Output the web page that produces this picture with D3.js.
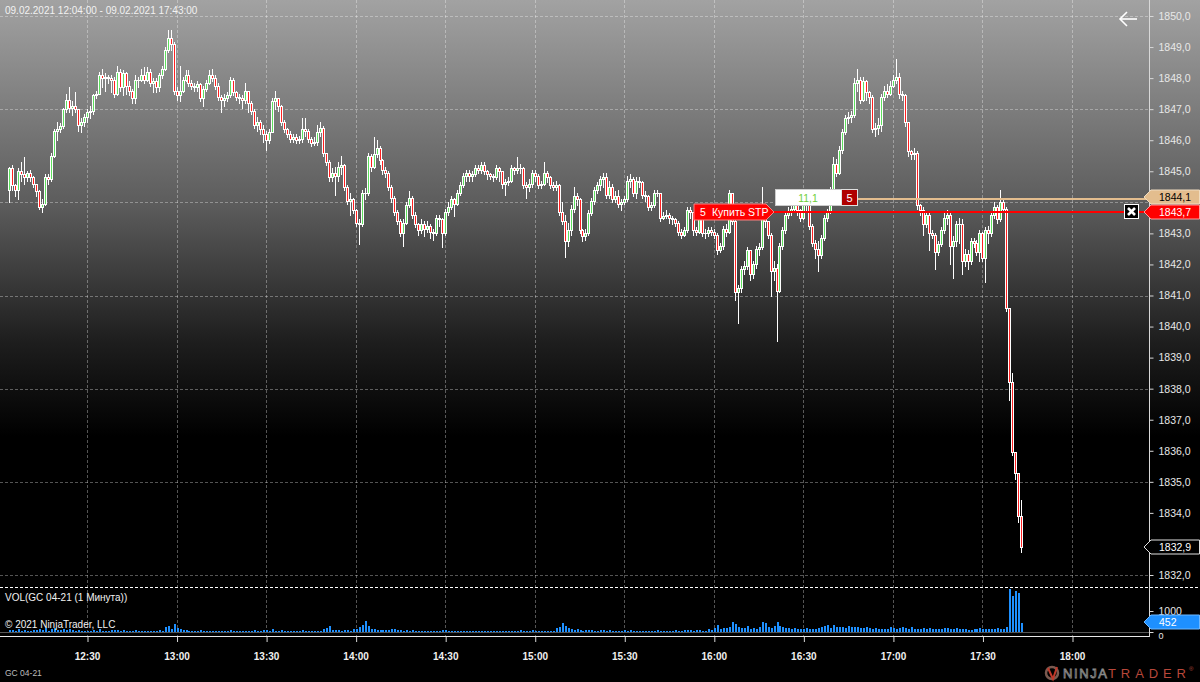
<!DOCTYPE html>
<html><head><meta charset="utf-8">
<script src="https://cdn.jsdelivr.net/npm/d3@7"></script>
<style>html,body{margin:0;padding:0;background:#000;overflow:hidden}svg{display:block}</style>
</head><body>
<svg id="c" width="1200" height="682"></svg>
<script>
// ---------------- DATA ----------------
const titleText = "09.02.2021 12:04:00 - 09.02.2021 17:43:00";
const firstOpen = 1844.4;
const closes = [
1845.1,1844.55,1844.4,1845.0,1844.9,1844.8,1844.95,1844.8,1844.6,1844.35,
1843.85,1843.95,1844.8,1844.75,1845.5,1846.3,1846.35,1846.45,1847.0,1847.3,
1847.05,1847.1,1847.0,1846.5,1846.6,1846.75,1846.9,1846.95,1847.45,1847.5,
1848.1,1848.0,1848.05,1848.0,1847.95,1847.5,1848.2,1847.7,1848.15,1847.75,
1847.6,1847.35,1847.95,1847.95,1848.1,1847.95,1848.2,1847.85,1847.9,1847.7,
1848.1,1848.3,1848.9,1849.3,1849.1,1847.6,1847.45,1847.6,1847.95,1848.1,
1847.85,1847.75,1847.7,1847.8,1847.35,1847.65,1847.85,1848.1,1848.0,1847.75,
1847.4,1847.3,1847.35,1847.45,1847.95,1847.55,1847.4,1847.35,1847.3,1847.6,
1847.2,1846.95,1846.5,1846.6,1846.35,1846.2,1846.0,1846.25,1847.25,1847.35,
1847.1,1846.6,1846.35,1846.2,1846.05,1846.1,1846.0,1846.05,1846.35,1846.3,1846.05,
1845.9,1845.95,1846.25,1846.4,1845.6,1845.3,1844.8,1844.95,1844.85,1845.15,
1845.2,1844.5,1844.05,1844.1,1843.75,1843.35,1843.3,1844.3,1844.3,1845.5,
1845.15,1845.55,1845.75,1845.35,1845.05,1844.95,1844.5,1844.15,1843.7,1843.4,
1843.0,1843.35,1843.9,1844.15,1843.6,1843.3,1843.1,1843.3,1843.15,1843.25,
1843.05,1843.0,1843.5,1843.45,1843.0,1843.7,1843.85,1844.1,1843.95,1844.3,
1844.55,1844.85,1844.95,1844.85,1844.9,1845.1,1845.05,1845.2,1845.0,1844.9,
1844.85,1844.8,1845.1,1845.0,1844.6,1844.65,1844.7,1845.1,1845.05,1845.1,
1845.1,1844.55,1844.5,1844.6,1844.95,1844.85,1844.55,1844.6,1844.95,1844.8,
1844.55,1844.5,1844.55,1843.7,1843.4,1842.75,1843.1,1843.8,1844.2,1844.1,
1843.1,1842.9,1843.0,1843.65,1844.05,1844.4,1844.55,1844.75,1844.8,1844.25,
1844.5,1844.1,1844.2,1843.95,1844.0,1844.1,1844.7,1844.75,1844.3,1844.7,
1844.65,1844.25,1844.2,1843.85,1843.9,1844.3,1844.3,1843.5,1843.55,1843.6,
1843.5,1843.45,1843.35,1843.05,1842.95,1843.1,1843.75,1843.7,1843.1,1843.05,
1843.5,1843.0,1843.0,1843.1,1843.05,1842.95,1842.45,1842.6,1843.15,1843.05,
1844.3,1843.4,1841.1,1841.25,1841.85,1841.95,1842.45,1841.7,1842.0,1842.5,
1842.55,1843.65,1843.4,1842.95,1841.8,1841.9,1841.15,1842.6,1843.1,1843.6,
1843.7,1843.8,1844.05,1843.75,1843.5,1843.9,1844.0,1843.25,1842.7,1842.5,1842.3,
1842.85,1843.5,1843.7,1844.4,1845.25,1844.95,1845.7,1846.25,1846.7,1846.75,
1846.8,1847.85,1847.95,1847.3,1847.9,1847.55,1847.4,1846.35,1846.4,1846.5,
1847.4,1847.6,1847.5,1847.75,1847.95,1848.05,1847.5,1847.45,1846.6,1845.65,
1845.55,1845.6,1843.9,1843.75,1843.3,1843.6,1843.0,1842.95,1842.4,1842.65,
1843.1,1843.5,1843.6,1842.6,1842.75,1843.3,1843.3,1842.1,1842.35,1842.1,
1842.75,1842.7,1842.4,1843.0,1842.2,1843.1,1843.0,1843.6,1843.85,1843.45,
1844.0,1843.8,1840.6,1838.2,1835.95,1835.3,1833.9,1832.9
];
const highs = [
1845.15,1845.2,1844.6,1845.1,1845.3,1845.45,1845.0,1845.05,1844.85,1844.6,
1844.4,1844.1,1844.9,1844.9,1845.6,1846.35,1846.6,1846.55,1847.05,1847.5,
1847.7,1847.25,1847.55,1847.0,1846.7,1846.85,1847.0,1847.1,1847.5,1847.6,
1848.2,1848.3,1848.15,1848.1,1848.1,1848.05,1848.4,1848.3,1848.25,1848.2,
1847.9,1847.65,1848.1,1848.05,1848.3,1848.35,1848.35,1848.3,1848.0,1848.0,
1848.15,1848.4,1849.0,1849.55,1849.55,1849.15,1847.7,1848.4,1848.05,1848.25,
1848.25,1847.95,1847.85,1847.9,1847.85,1847.75,1847.95,1848.25,1848.3,1848.1,
1847.85,1847.45,1847.5,1847.55,1848.05,1848.0,1847.6,1847.5,1847.45,1847.85,
1847.6,1847.25,1847.0,1846.75,1846.65,1846.5,1846.3,1846.35,1847.35,1847.6,
1847.35,1847.15,1846.65,1846.4,1846.3,1846.2,1846.2,1846.15,1846.7,1846.7,1846.35,
1846.1,1846.1,1846.5,1846.6,1846.45,1845.6,1845.35,1845.1,1845.15,1845.3,
1845.5,1845.25,1844.55,1844.3,1844.15,1843.8,1843.45,1844.4,1844.45,1845.6,
1845.55,1846.1,1846.0,1845.8,1845.4,1845.15,1845.0,1844.55,1844.2,1843.75,
1843.45,1843.45,1844.0,1844.35,1844.2,1843.7,1843.35,1843.45,1843.4,1843.4,
1843.3,1843.15,1843.6,1843.6,1843.5,1843.8,1844.0,1844.2,1844.15,1844.4,
1844.65,1844.95,1845.05,1845.05,1845.0,1845.2,1845.2,1845.3,1845.3,1845.05,
1844.95,1844.9,1845.2,1845.15,1845.0,1844.75,1844.8,1845.2,1845.15,1845.45,
1845.25,1845.15,1844.65,1844.75,1845.05,1845.05,1844.9,1844.7,1845.3,1845.0,
1844.85,1844.65,1844.7,1844.6,1844.0,1843.6,1843.35,1843.9,1844.5,1844.3,
1844.15,1843.15,1843.15,1843.75,1844.15,1844.5,1844.65,1844.85,1844.95,1844.95,
1844.7,1844.6,1844.35,1844.4,1844.1,1844.2,1844.85,1844.9,1844.8,1844.8,
1844.8,1844.7,1844.35,1844.25,1844.0,1844.4,1844.4,1844.3,1843.7,1843.75,
1843.65,1843.55,1843.5,1843.4,1843.15,1843.2,1843.85,1843.85,1843.7,1843.2,
1843.6,1843.55,1843.15,1843.2,1843.2,1843.15,1843.0,1842.7,1843.25,1843.3,
1844.4,1844.3,1843.45,1841.35,1841.95,1842.1,1842.55,1842.45,1842.1,1842.6,
1842.7,1844.5,1843.7,1843.4,1843.0,1842.1,1842.0,1842.7,1843.2,1843.7,
1843.85,1844.2,1844.3,1844.15,1843.8,1844.0,1844.15,1844.05,1843.3,1842.8,1842.75,
1842.95,1843.6,1843.8,1844.5,1845.45,1845.4,1845.8,1846.35,1846.8,1846.9,
1846.95,1848.0,1848.3,1848.05,1848.05,1847.95,1847.6,1847.45,1846.55,1846.7,
1847.5,1847.75,1847.8,1847.9,1848.1,1848.6,1848.15,1847.6,1847.5,1846.6,
1845.7,1845.75,1845.65,1843.95,1843.85,1843.7,1843.65,1843.1,1843.0,1842.75,
1843.2,1843.65,1843.75,1843.65,1842.9,1843.4,1843.5,1843.45,1842.5,1842.45,
1842.85,1842.85,1842.8,1843.1,1843.05,1843.2,1843.25,1843.7,1844.0,1843.9,
1844.4,1844.15,1843.85,1840.55,1838.5,1835.9,1835.3,1834.4
];
const lows = [
1844.0,1844.4,1844.2,1844.1,1844.7,1844.6,1844.7,1844.7,1844.5,1844.2,
1843.8,1843.7,1843.9,1844.6,1844.7,1845.45,1846.0,1846.25,1846.4,1846.9,
1846.9,1846.8,1846.9,1846.3,1846.25,1846.45,1846.6,1846.7,1846.85,1847.35,
1847.5,1847.7,1847.6,1847.85,1847.55,1847.4,1847.45,1847.6,1847.45,1847.5,
1847.45,1847.2,1847.2,1847.7,1847.9,1847.85,1847.9,1847.75,1847.55,1847.55,
1847.6,1848.0,1848.25,1848.85,1848.9,1847.5,1847.3,1847.25,1847.55,1847.9,
1847.75,1847.65,1847.6,1847.6,1847.25,1847.1,1847.6,1847.8,1847.9,1847.65,
1847.3,1846.9,1847.1,1847.25,1847.4,1847.45,1847.3,1847.2,1847.05,1847.2,
1846.9,1846.85,1846.4,1846.3,1846.2,1845.95,1845.7,1845.9,1846.25,1847.0,
1846.95,1846.5,1846.25,1846.1,1845.95,1845.95,1845.9,1845.9,1845.95,1846.15,1845.95,
1845.8,1845.85,1845.85,1846.15,1845.5,1845.2,1844.7,1844.7,1844.25,1844.7,
1844.9,1844.4,1843.95,1843.6,1843.65,1843.25,1842.65,1843.25,1844.1,1844.25,
1845.0,1845.1,1845.45,1845.25,1844.9,1844.8,1844.4,1844.0,1843.6,1843.3,
1842.9,1842.6,1843.3,1843.85,1843.5,1843.2,1842.95,1843.0,1842.9,1843.05,
1842.85,1842.8,1842.95,1843.25,1842.55,1842.95,1843.6,1843.8,1843.55,1843.9,
1844.25,1844.5,1844.7,1844.7,1844.7,1844.85,1844.95,1844.95,1844.9,1844.75,
1844.75,1844.7,1844.75,1844.7,1844.45,1844.25,1844.55,1844.65,1844.9,1844.95,
1844.95,1844.45,1844.15,1844.35,1844.5,1844.7,1844.45,1844.45,1844.55,1844.65,
1844.45,1844.4,1844.4,1843.6,1843.3,1842.25,1842.6,1842.95,1843.7,1843.9,
1843.0,1842.75,1842.8,1842.95,1843.6,1843.95,1844.3,1844.4,1844.5,1844.15,
1844.15,1844.0,1844.0,1843.85,1843.75,1843.95,1844.05,1844.5,1844.2,1844.15,
1844.5,1844.15,1844.05,1843.75,1843.75,1843.85,1844.2,1843.4,1843.45,1843.5,
1843.35,1843.3,1843.25,1842.95,1842.85,1842.9,1843.05,1843.5,1842.95,1842.95,
1843.0,1842.9,1842.85,1842.9,1842.95,1842.85,1842.35,1842.4,1842.5,1842.9,
1843.0,1843.3,1840.85,1840.1,1841.1,1841.7,1841.85,1841.5,1841.55,1841.9,
1842.3,1842.5,1843.2,1842.85,1841.0,1841.5,1839.55,1841.1,1842.5,1843.0,
1843.5,1843.6,1843.7,1843.6,1843.4,1843.45,1843.7,1843.15,1842.6,1842.2,1841.8,
1842.2,1842.8,1843.4,1843.65,1844.35,1844.85,1844.9,1845.6,1846.2,1846.55,
1846.6,1846.75,1847.6,1847.2,1847.25,1847.3,1847.2,1846.25,1846.15,1846.2,
1846.3,1847.3,1847.4,1847.45,1847.7,1847.85,1847.35,1847.3,1846.45,1845.5,
1845.4,1845.4,1843.8,1843.6,1842.95,1843.2,1842.45,1842.85,1841.85,1842.3,
1842.6,1843.0,1843.3,1842.0,1841.55,1842.6,1842.7,1841.7,1841.95,1841.85,
1842.0,1842.55,1842.3,1842.1,1842.1,1841.45,1842.7,1842.9,1843.5,1843.35,
1843.4,1843.7,1840.5,1837.65,1835.85,1835.1,1833.7,1832.75
];
const volumes = [
110,80,70,120,60,90,70,60,80,100,
140,110,180,70,150,190,90,80,120,100,
130,80,70,90,60,50,60,50,100,60,
120,70,60,50,80,90,100,70,80,60,
60,70,90,50,60,70,60,50,60,40,
80,70,220,300,160,380,190,140,90,80,
70,50,40,60,80,70,50,60,60,50,
70,60,40,50,90,60,40,50,40,60,
60,70,90,60,50,110,80,60,120,70,
60,80,70,50,40,50,40,40,90,60,
40,50,40,60,70,150,190,280,110,90,
80,70,110,90,60,150,130,240,330,520,
300,150,120,100,80,90,80,110,120,130,
80,90,70,100,60,80,70,50,60,50,
40,50,40,60,70,80,90,60,70,50,
60,70,60,50,60,40,50,60,70,50,
40,50,60,70,50,40,60,50,40,60,
70,90,60,50,60,80,60,50,70,60,
60,50,70,180,260,420,300,200,150,100,
120,80,70,110,90,80,70,60,80,100,
70,80,60,70,50,60,90,70,80,60,
60,70,50,60,50,60,40,90,60,50,
60,50,70,80,60,70,110,80,90,70,
90,80,70,60,120,80,170,330,150,180,
200,240,480,380,250,170,200,300,150,190,
160,230,480,420,260,210,300,470,280,220,
200,180,150,200,160,130,140,190,150,120,
160,200,240,280,350,200,310,260,220,240,
180,300,250,220,260,200,180,260,190,160,
200,150,130,140,160,220,180,150,200,230,
190,140,240,160,130,150,170,120,200,150,
130,160,120,210,180,140,120,200,150,130,
120,100,110,150,130,200,140,160,130,150,
140,180,160,150,260,2050,1700,1950,1850,452
];
const priceTicks = [1850,1849,1848,1847,1846,1845,1843,1842,1841,1840,1839,1838,1837,1836,1835,1834,1832];
const gridPrices = [1850,1847,1844,1841,1838,1835,1832];
const timeTicks = ["12:30","13:00","13:30","14:00","14:30","15:00","15:30","16:00","16:30","17:00","17:30","18:00"];
const volTicks = [0,1000];
const orderQty = 5, orderLabel = "Купить STP", orderPrice = 1843.7;
const posPrice = 1844.1, posPnl = "11,1", posQty = 5;
const lastPrice = 1832.9, lastVolume = 452;

// ---------------- SETUP ----------------
const svg = d3.select("#c");
const FONT = "'Liberation Sans', Arial, sans-serif";
const day = (h,m) => new Date(2021,1,9,h,m);
const times = closes.map((_,i) => day(12, 4 + i));
const bars = closes.map((c,i) => {
  const o = i === 0 ? firstOpen : closes[i-1];
  return {t: times[i], o, c, h: Math.max(highs[i], o, c), l: Math.min(lows[i], o, c), v: volumes[i]};
});

const x = d3.scaleTime().domain([day(12,30), day(18,0)]).range([87, 1072]);
const y = d3.scaleLinear().domain([1832, 1850]).range([575, 16]);
const yv = d3.scaleLinear().domain([0, 1000]).range([632, 611]);
const AX = 1149;

// background gradient
const defs = svg.append("defs");
const g = defs.append("linearGradient").attr("id","bg").attr("x1",0).attr("y1",0).attr("x2",0).attr("y2",1);
g.append("stop").attr("offset","0%").attr("stop-color","#a2a2a2");
g.append("stop").attr("offset","30%").attr("stop-color","#5c5c5c");
g.append("stop").attr("offset","50%").attr("stop-color","#1e1e1e");
g.append("stop").attr("offset","64%").attr("stop-color","#000");
g.append("stop").attr("offset","100%").attr("stop-color","#000");
svg.append("rect").attr("width",1200).attr("height",682).attr("fill","url(#bg)");

// grid
const grid = svg.append("g").attr("stroke","rgba(255,255,255,0.33)").attr("stroke-dasharray","3,2").attr("shape-rendering","crispEdges");
grid.selectAll(".h").data(gridPrices).join("line")
  .attr("x1",0).attr("x2",AX).attr("y1",d=>Math.round(y(d))+0.5).attr("y2",d=>Math.round(y(d))+0.5);
const tickDates = timeTicks.map(s => { const [h,m] = s.split(":").map(Number); return day(h,m); });
grid.selectAll(".v").data(tickDates).join("line")
  .attr("y1",0).attr("y2",636).attr("x1",d=>Math.round(x(d))+0.5).attr("x2",d=>Math.round(x(d))+0.5);

// title
svg.append("text").attr("x",5).attr("y",14).attr("font-family",FONT).attr("font-size",10)
  .attr("fill","#f2f2f2").text(titleText);

// back arrow
const arr = svg.append("g").attr("stroke","#fff").attr("stroke-width",1.6).attr("fill","none");
arr.append("line").attr("x1",1120).attr("x2",1137).attr("y1",19).attr("y2",19);
arr.append("polyline").attr("points","1127,12 1120,19 1127,26");

// candles
const cg = svg.append("g").attr("shape-rendering","crispEdges");
bars.forEach(b => {
  const cx = Math.round(x(b.t));
  cg.append("line").attr("x1",cx+0.5).attr("x2",cx+0.5)
    .attr("y1",Math.round(y(b.h))).attr("y2",Math.round(y(b.l))+1).attr("stroke","#fff");
  const top = Math.round(y(Math.max(b.o,b.c))), bot = Math.round(y(Math.min(b.o,b.c)));
  const hgt = Math.max(1, bot - top + 1);
  cg.append("rect").attr("x",cx-1).attr("y",top).attr("width",3).attr("height",hgt).attr("fill","#fff");
  if (hgt > 2 && b.c !== b.o) {
    cg.append("rect").attr("x",cx).attr("y",top+1).attr("width",1).attr("height",hgt-2)
      .attr("fill", b.c > b.o ? "#5ee05e" : "#ff2020");
  }
});

// volume separator
svg.append("line").attr("x1",0).attr("x2",1200).attr("y1",587.5).attr("y2",587.5)
  .attr("stroke","#fff").attr("stroke-dasharray","3,2");

// volume bars
svg.append("g").attr("shape-rendering","crispEdges").selectAll("rect").data(bars).join("rect")
  .attr("x", d => Math.round(x(d.t)) - 0.5).attr("width", 2)
  .attr("y", d => yv(d.v)).attr("height", d => yv(0) - yv(d.v)).attr("fill", "#1e90ff");

svg.append("line").attr("x1",0).attr("x2",AX).attr("y1",632.5).attr("y2",632.5).attr("stroke","#555");

svg.append("text").attr("x",5).attr("y",601).attr("font-family",FONT).attr("font-size",10)
  .attr("fill","#f2f2f2").text("VOL(GC 04-21 (1 Минута))");
svg.append("text").attr("x",5).attr("y",628).attr("font-family",FONT).attr("font-size",10)
  .attr("fill","#f2f2f2").text("© 2021 NinjaTrader, LLC");

// axes frame
svg.append("line").attr("x1",0).attr("x2",AX+0.5).attr("y1",636.5).attr("y2",636.5).attr("stroke","#e8e8e8");
svg.append("line").attr("x1",AX+0.5).attr("x2",AX+0.5).attr("y1",0).attr("y2",637).attr("stroke","#d8d8d8");

// price axis
const pa = svg.append("g").attr("transform",`translate(${AX+0.5},0)`)
  .call(d3.axisRight(y).tickValues(priceTicks).tickSize(4).tickPadding(5)
    .tickFormat(d => d.toFixed(1).replace(".",",")));
pa.select(".domain").remove();
pa.selectAll("line").attr("stroke","#d8d8d8");
pa.selectAll("text").attr("fill","#e8e8e8").attr("font-family",FONT).attr("font-size",10.5);

// volume axis
const va = svg.append("g").attr("transform",`translate(${AX+0.5},0)`)
  .call(d3.axisRight(yv).tickValues(volTicks).tickSize(4).tickPadding(5).tickFormat(d3.format("d")));
va.select(".domain").remove();
va.selectAll("line").attr("stroke","#d8d8d8");
va.selectAll("text").attr("fill","#e8e8e8").attr("font-family",FONT).attr("font-size",10.5);
va.selectAll(".tick").filter(d => d === 0).select("text").attr("font-size",9).attr("dy","0.75em");

// time axis
const ta = svg.append("g").attr("transform","translate(0,637)")
  .call(d3.axisBottom(x).tickValues(tickDates).tickSize(5).tickPadding(11).tickFormat(d3.timeFormat("%H:%M")));
ta.select(".domain").remove();
ta.selectAll("line").attr("stroke","#d8d8d8").attr("transform","translate(0.5,0)");
ta.selectAll("text").attr("fill","#f0f0f0").attr("font-family",FONT).attr("font-size",10).attr("font-weight","bold");

svg.append("text").attr("x",5).attr("y",676).attr("font-family",FONT).attr("font-size",8.5)
  .attr("fill","#bdbdbd").text("GC 04-21");

// position line (tan) and order line (red)
const yPos = Math.round(y(posPrice)), yOrd = Math.round(y(orderPrice));
svg.append("line").attr("x1",857).attr("x2",AX).attr("y1",yPos).attr("y2",yPos)
  .attr("stroke","#e3bd8e").attr("stroke-width",2);
svg.append("line").attr("x1",772).attr("x2",AX).attr("y1",yOrd).attr("y2",yOrd)
  .attr("stroke","#ff0000").attr("stroke-width",2);

// order label "5 Купить STP"
svg.append("path").attr("d",`M694,${yOrd-8} H766 L774,${yOrd} L766,${yOrd+8} H694 Z`)
  .attr("fill","#f00").attr("stroke","#ff8080").attr("stroke-width",1);
svg.append("text").attr("x",700).attr("y",yOrd+4).attr("font-family",FONT).attr("font-size",10.5)
  .attr("fill","#fff").text(orderQty);
svg.append("text").attr("x",712).attr("y",yOrd+4).attr("font-family",FONT).attr("font-size",10.5)
  .attr("fill","#fff").text(orderLabel);

// position box
svg.append("rect").attr("x",775.5).attr("y",189.5).attr("width",66).attr("height",16)
  .attr("fill","#fff").attr("stroke","#ccc");
svg.append("text").attr("x",808).attr("y",201.5).attr("text-anchor","middle").attr("font-family",FONT)
  .attr("font-size",10.5).attr("fill","#6fcf3a").text(posPnl);
svg.append("rect").attr("x",841.5).attr("y",189.5).attr("width",16).attr("height",16)
  .attr("fill","#b00000").attr("stroke","#e0e0e0");
svg.append("text").attr("x",849.5).attr("y",201.5).attr("text-anchor","middle").attr("font-family",FONT)
  .attr("font-size",11).attr("fill","#fff").text(posQty);

// close button
svg.append("rect").attr("x",1124.5).attr("y",yOrd-7.5).attr("width",14).attr("height",14)
  .attr("fill","#000").attr("stroke","#fff");
svg.append("path").attr("d",`M1128,${yOrd-4} L1135,${yOrd+3} M1135,${yOrd-4} L1128,${yOrd+3}`)
  .attr("stroke","#fff").attr("stroke-width",2.6);

// axis value labels
function axisLabel(yc, fill, stroke, txt, color) {
  svg.append("path").attr("d",`M${AX-5},${yc} L${AX+2},${yc-7} H1199.5 V${yc+7} H${AX+2} Z`)
    .attr("fill",fill).attr("stroke",stroke).attr("stroke-width",1);
  svg.append("text").attr("x",AX+10).attr("y",yc+4).attr("font-family",FONT).attr("font-size",10.5)
    .attr("fill",color).text(txt);
}
axisLabel(yPos-2, "#e3bd8e", "#f0dcc0", posPrice.toFixed(1).replace(".",","), "#000");
axisLabel(yOrd, "#ff0000", "#ff9a9a", orderPrice.toFixed(1).replace(".",","), "#fff");
axisLabel(Math.round(y(lastPrice)), "#000", "#e0e0e0", lastPrice.toFixed(1).replace(".",","), "#fff");
axisLabel(Math.round(yv(lastVolume)) - 1, "#1e90ff", "#6fb8ff", String(lastVolume), "#fff");

// NinjaTrader logo
const lg = svg.append("g");
lg.append("circle").attr("cx",1052).attr("cy",673).attr("r",6).attr("fill","none").attr("stroke","#7a5a50").attr("stroke-width",2.5);
lg.append("path").attr("d","M1048,668 L1053,679 L1057,667").attr("fill","none").attr("stroke","#c0392b").attr("stroke-width",2);
lg.append("text").attr("x",1063).attr("y",678).attr("font-family",FONT).attr("font-size",13)
  .attr("textLength",44).attr("lengthAdjust","spacing")
  .attr("fill","none").attr("stroke","#8a8a8a").attr("stroke-width",0.8).text("NINJA");
lg.append("text").attr("x",1108).attr("y",678).attr("font-family",FONT).attr("font-size",13)
  .attr("textLength",78).attr("lengthAdjust","spacing")
  .attr("fill","#b8473a").text("TRADER");
lg.append("text").attr("x",1189).attr("y",671).attr("font-family",FONT).attr("font-size",6)
  .attr("fill","#b8473a").text("®");
</script>
</body></html>
